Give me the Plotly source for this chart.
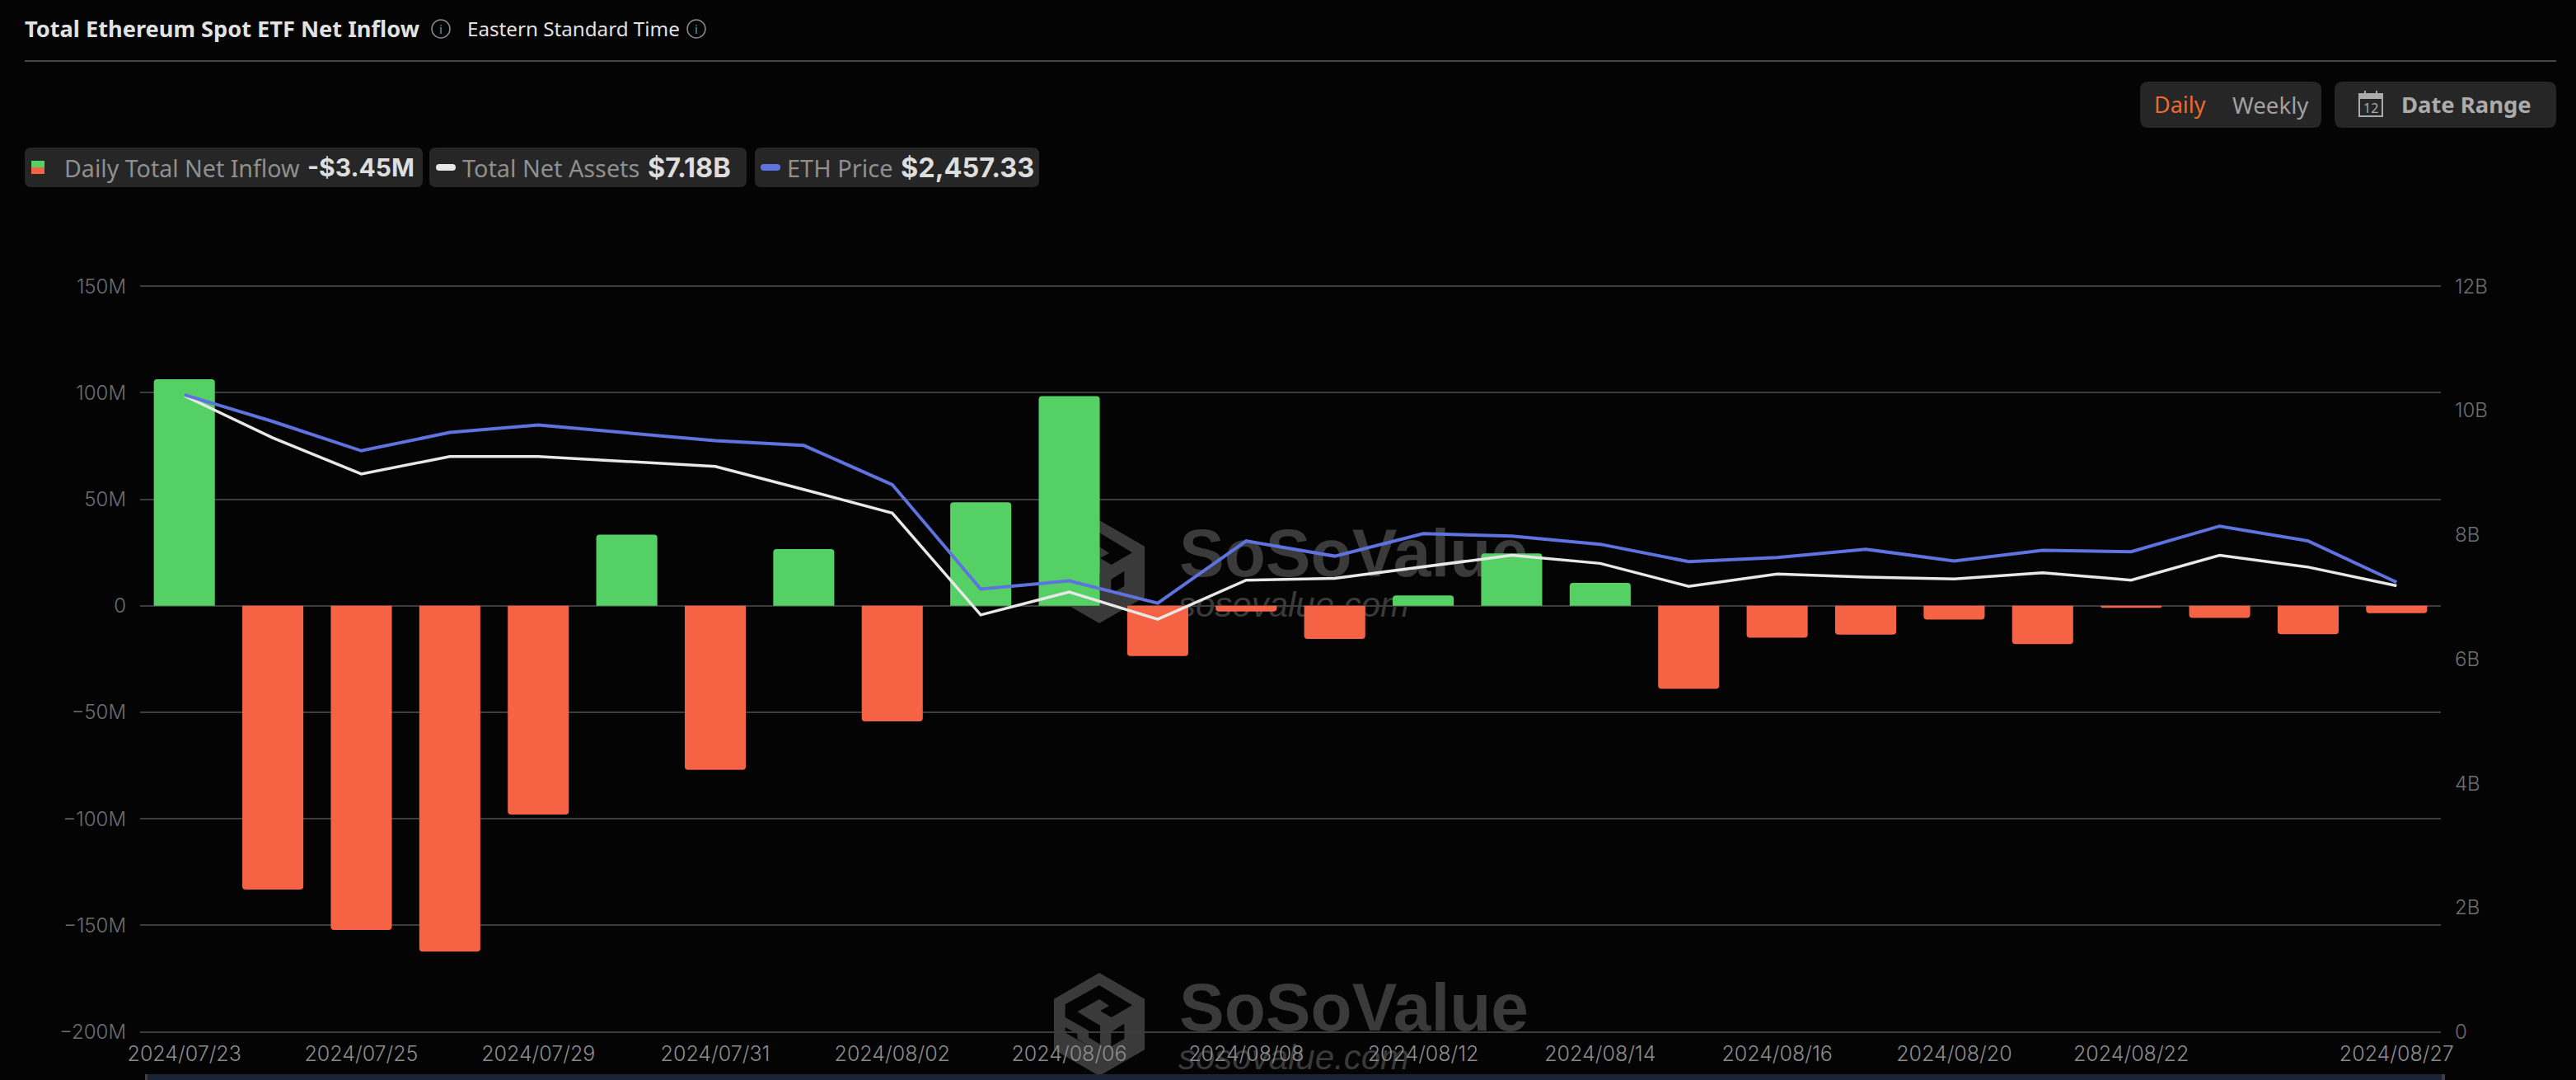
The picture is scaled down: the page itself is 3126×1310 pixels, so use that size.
import base64
import plotly.graph_objects as go

# ---------- data ----------
dates = ["2024/07/23", "2024/07/24", "2024/07/25", "2024/07/26", "2024/07/29", "2024/07/30",
         "2024/07/31", "2024/08/01", "2024/08/02", "2024/08/05", "2024/08/06", "2024/08/07",
         "2024/08/08", "2024/08/09", "2024/08/12", "2024/08/13", "2024/08/14", "2024/08/15",
         "2024/08/16", "2024/08/19", "2024/08/20", "2024/08/21", "2024/08/22", "2024/08/23",
         "2024/08/26", "2024/08/27"]
net_inflow_m = [106.4, -133.2, -152.2, -162.4, -98.0, 33.4, -77.0, 26.6, -54.3, 48.6, 98.4, -23.6,
                -2.7, -15.6, 4.9, 24.6, 10.8, -39.0, -15.0, -13.5, -6.5, -18.0, -0.9, -5.7, -13.3, -3.45]
net_assets_b = [10.24, 9.56, 8.98, 9.26, 9.26, 9.18, 9.10, 8.73, 8.35, 6.71, 7.08, 6.64, 7.27,
                7.30, 7.48, 7.67, 7.54, 7.17, 7.37, 7.32, 7.29, 7.39, 7.27, 7.67, 7.48, 7.18]
eth_price = [3482, 3336, 3176, 3276, 3317, 3276, 3231, 3205, 2991, 2420, 2465, 2343, 2683,
             2600, 2723, 2710, 2665, 2570, 2593, 2638, 2573, 2632, 2624, 2764, 2683, 2457.33]

shown_dates = ["2024/07/23", "2024/07/25", "2024/07/29", "2024/07/31", "2024/08/02", "2024/08/06",
               "2024/08/08", "2024/08/12", "2024/08/14", "2024/08/16", "2024/08/20", "2024/08/22",
               "2024/08/27"]
left_vals = [-200, -150, -100, -50, 0, 50, 100, 150]
left_text = ["−200M", "−150M", "−100M", "−50M", "0", "50M", "100M", "150M"]
right_vals = [0, 2, 4, 6, 8, 10, 12]
right_text = ["0", "2B", "4B", "6B", "8B", "10B", "12B"]

# ---------- styling ----------
BG = "#040404"
GREEN = "#55D065"
RED = "#F66244"
BLUE = "#5F73E0"
WHITE = "#E8E8E8"
GRID = "#3C3C3C"
PANEL = "#262626"
WM = "#3A3A3A"
AXFONT = "Inter"
UI = "Noto Sans"

W, H = 3126, 1310
L, R = 170, 2962
TOP, BOTTOM = 347.3, 1251.5   # pixel rows of the 150M and -200M lines
PAD = 2.0                     # keeps the outermost grid lines inside the plot box


def span(lo, hi):
    """Axis range for lo..hi, widened by PAD pixels each way."""
    d = (hi - lo) * PAD / (BOTTOM - TOP)
    return [lo - d, hi + d]


def px(x):
    return (x - L) / (R - L)


def py(y):
    return 1 - y / H


positions = list(range(len(dates)))
x_of = dict(zip(dates, positions))

fig = go.Figure()

# watermark text sits on its own full-height backdrop subplot (axes in page pixels),
# so the bars drawn afterwards cover it and nothing gets clipped at the -200M line
for xc, yc, txt, size, bold in [
    (1643, 678, "SoSoValue", 82, True),
    (1570, 737, "sosovalue.com", 42, False),
    (1643, 1229, "SoSoValue", 82, True),
    (1570, 1286, "sosovalue.com", 42, False),
]:
    fig.add_trace(go.Scatter(
        x=[xc], y=[yc], mode="text", text=[txt], textposition="middle center",
        textfont=dict(family="Liberation Sans", size=size, color=WM, weight=700 if bold else 400,
                      style="normal" if bold else "italic"),
        hoverinfo="skip", showlegend=False, xaxis="x", yaxis="y"))

fig.add_trace(go.Bar(
    x=positions, y=net_inflow_m, width=0.69,
    marker=dict(color=[GREEN if v >= 0 else RED for v in net_inflow_m], cornerradius=4, line_width=0),
    name="Daily Total Net Inflow", showlegend=False, xaxis="x2", yaxis="y2"))
fig.add_trace(go.Scatter(
    x=positions, y=net_assets_b, mode="lines", line=dict(color=WHITE, width=3.5),
    name="Total Net Assets", showlegend=False, xaxis="x2", yaxis="y3"))
fig.add_trace(go.Scatter(
    x=positions, y=eth_price, mode="lines", line=dict(color=BLUE, width=4),
    name="ETH Price", showlegend=False, xaxis="x2", yaxis="y4"))

shapes, annos = [], []


def rrect(x0, y0, x1, y1, r, fill):
    X0, X1, Y0, Y1 = px(x0), px(x1), py(y0), py(y1)
    rx, ry = r / (R - L), r / H
    path = (f"M{X0 + rx},{Y0} L{X1 - rx},{Y0} Q{X1},{Y0} {X1},{Y0 - ry} L{X1},{Y1 + ry} "
            f"Q{X1},{Y1} {X1 - rx},{Y1} L{X0 + rx},{Y1} Q{X0},{Y1} {X0},{Y1 + ry} "
            f"L{X0},{Y0 - ry} Q{X0},{Y0} {X0 + rx},{Y0} Z")
    shapes.append(dict(type="path", xref="paper", yref="paper", path=path, fillcolor=fill,
                       line_width=0, layer="below"))


def rect(x0, y0, x1, y1, fill=None, line=None, lw=0):
    shapes.append(dict(type="rect", xref="paper", yref="paper", x0=px(x0), x1=px(x1), y0=py(y1), y1=py(y0),
                       fillcolor=fill or "rgba(0,0,0,0)", line=dict(color=line or "rgba(0,0,0,0)", width=lw),
                       layer="below"))


def circle(cx, cy, r, line, lw=1.5):
    shapes.append(dict(type="circle", xref="paper", yref="paper", x0=px(cx - r), x1=px(cx + r),
                       y0=py(cy + r), y1=py(cy - r), line=dict(color=line, width=lw), layer="below"))


def text(x, y, s, size, color, weight=400, anchor="left", family=UI):
    annos.append(dict(xref="paper", yref="paper", x=px(x), y=py(y), text=s, showarrow=False,
                      xanchor=anchor, yanchor="middle", borderpad=0,
                      font=dict(family=family, size=size, color=color, weight=weight)))


# header
text(29, 35, "Total Ethereum Spot ETF Net Inflow", 27.2, "#E2E2E2", 700)
circle(535, 35, 11, "#8A8A8A")
text(535, 35, "i", 15, "#8A8A8A", anchor="center")
text(566, 35, "Eastern Standard Time", 24.2, "#E2E2E2")
circle(845, 35, 11, "#8A8A8A")
text(845, 35, "i", 15, "#8A8A8A", anchor="center")
rect(30, 73, 3102, 75, fill="#474747")

# legend chips
rrect(30, 179, 513, 227, 8, PANEL)
rrect(521, 179, 906, 227, 8, PANEL)
rrect(916, 179, 1261, 227, 8, PANEL)
rect(38, 195, 54, 203, fill=GREEN)
rect(38, 203, 54, 211, fill=RED)
rrect(529, 199, 553, 207, 4, "#E6E6E6")
rrect(923, 199, 947, 207, 4, BLUE)
text(77, 203, "Daily Total Net Inflow", 28.6, "#8F8F8F")
text(372, 203, "-$3.45M", 30, "#DEDEDE", 700, family=AXFONT)
text(560, 203, "Total Net Assets", 28.8, "#8F8F8F")
text(785, 203, "$7.18B", 32.5, "#DEDEDE", 700, family=AXFONT)
text(954, 203, "ETH Price", 29, "#8F8F8F")
text(1092, 203, "$2,457.33", 32.5, "#DEDEDE", 700, family=AXFONT)

# buttons
rrect(2597, 99, 2817, 155, 10, PANEL)
rrect(2833, 99, 3102, 155, 10, PANEL)
text(2613, 127, "Daily", 27, "#EF6A2E")
text(2708, 127, "Weekly", 27.7, "#A0A0A0")
text(2913, 127, "Date Range", 27.4, "#ABABAB", 700)
rect(2863, 114, 2891, 141, line="#ABABAB", lw=2)
rect(2863, 114, 2891, 120, fill="#ABABAB")
rect(2869, 110, 2871, 117, fill="#ABABAB")
rect(2883, 110, 2885, 117, fill="#ABABAB")
text(2877, 131, "12", 16, "#ABABAB", anchor="center")

# scroller strip at the foot of the chart
rect(176, 1303, 2967, 1310, fill="#404040")
rect(179, 1303, 2963, 1310, fill="#1B2338")

# watermark logo
logo_svg = f"""<svg xmlns="http://www.w3.org/2000/svg" viewBox="177 30 330 375">
<polygon fill="{WM}" points="342,30 507,125 507,310 342,405 177,310 177,125"/>
<polygon fill="{BG}" points="218,145 342,75 462,148 386,192 345,168 378,150 342,126 262,172 345,222 345,290 303,265 303,240 218,192"/>
<polygon fill="{BG}" points="218,228 262,252 262,270 303,295 218,248"/>
<polygon fill="{BG}" points="385,245 433,215 433,270 385,298"/>
</svg>"""
logo_uri = "data:image/svg+xml;base64," + base64.b64encode(logo_svg.encode()).decode()
images = [dict(source=logo_uri, xref="paper", yref="paper", x=px(1279), y=py(top), sizex=110 / (R - L),
               sizey=125 / H, sizing="stretch", xanchor="left", yanchor="top", layer="below")
          for top in (631, 1180)]

domain = [py(BOTTOM + PAD), py(TOP - PAD)]
tick_left = dict(family=AXFONT, size=24, color="#6E6E73", weight=300)

fig.update_layout(
    width=W, height=H, autosize=False,
    margin=dict(l=L, r=W - R, t=0, b=0, pad=0),
    paper_bgcolor=BG, plot_bgcolor="rgba(0,0,0,0)",
    showlegend=False, hovermode=False, barmode="overlay",
    shapes=shapes, annotations=annos, images=images,
    # backdrop subplot for the watermark text, page pixels on both axes
    xaxis=dict(range=[L, R], visible=False),
    yaxis=dict(range=[H, 0], domain=[0, 1], visible=False),
    # the chart itself
    xaxis2=dict(
        anchor="y2", range=[-0.5, len(dates) - 0.5], tickmode="array",
        tickvals=[x_of[d] for d in shown_dates], ticktext=shown_dates,
        showgrid=False, zeroline=False, showline=False, ticks="", ticklabelstandoff=7,
        automargin=False, tickangle=0,
        tickfont=dict(family=AXFONT, size=25, color="#8C8C8C", weight=300)),
    yaxis2=dict(
        anchor="x2", domain=domain, range=span(-200, 150), tickmode="array",
        tickvals=left_vals, ticktext=left_text,
        showgrid=True, gridcolor=GRID, gridwidth=1.5, zeroline=False, showline=False,
        ticks="", ticklabelstandoff=16, automargin=False, tickfont=tick_left),
    yaxis3=dict(
        anchor="x2", domain=domain, range=span(0, 12), overlaying="y2", side="right", tickmode="array",
        tickvals=right_vals, ticktext=right_text, showgrid=False, zeroline=False, showline=False,
        ticks="", ticklabelstandoff=16, automargin=False, tickfont=tick_left),
    yaxis4=dict(anchor="x2", domain=domain, range=span(0, 4075), overlaying="y2", visible=False),
)

fig.write_html(
    "out.html",
    config=dict(displayModeBar=False),
    post_script=f"document.body.style.margin='0';document.body.style.background='{BG}';"
                "document.body.style.overflow='hidden';",
)
